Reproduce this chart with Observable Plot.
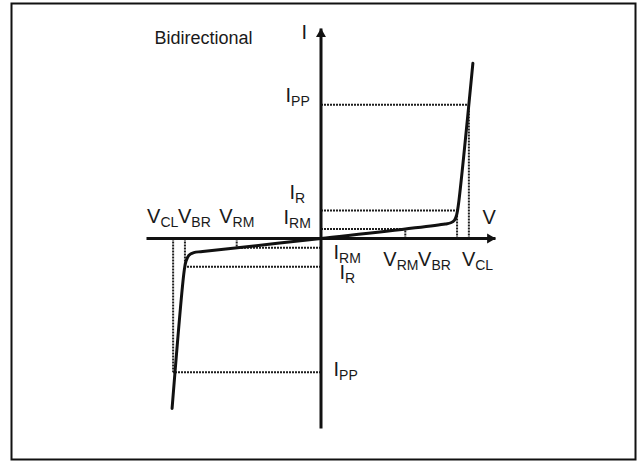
<!DOCTYPE html>
<html>
<head>
<meta charset="utf-8">
<script src="https://cdn.jsdelivr.net/npm/d3@7"></script>
<script src="https://cdn.jsdelivr.net/npm/@observablehq/plot@0.6"></script>
<style>
  html, body { margin: 0; padding: 0; background: #fff; }
</style>
</head>
<body>
<div id="chart"></div>
<script>
// ---- Data (normalized units: V relative to V_CL, I relative to I_PP) ----
const title = "Bidirectional";
const V_CL = 1.0, V_BR = 0.92, V_RM = 0.57;
const I_PP = 1.0, I_R = 0.21, I_RM = 0.072;
const V_AXIS = [-1.18, 1.18];
const I_AXIS = [-1.42, 1.57];

// I–V characteristic curve (from lower-left to upper-right)
const curveV = [-1.007, -0.925, -0.913, -0.893, -0.86, -0.80, 0, 0.84, 0.878, 0.903, 0.918, 0.93, 1.027];
const curveI = [-1.27, -0.24, -0.17, -0.125, -0.105, -0.097, 0, 0.109, 0.118, 0.138, 0.18, 0.26, 1.31];

// dotted reference levels: [V level, I level] for each quadrant
const refV = [V_CL, V_BR, V_RM, -V_CL, -V_BR, -V_RM];
const refI = [I_PP, I_R, I_RM, -I_PP, -I_R, -I_RM * 0.95];

// labels: text ("_" marks subscript), anchor V, anchor I
const labelText = ["I", "V",
  "I_PP", "I_R", "I_RM",
  "I_RM", "I_R", "I_PP",
  "V_RM", "V_BR", "V_CL",
  "V_CL", "V_BR", "V_RM"];
const labelV = [0, V_AXIS[1], 0, 0, 0, 0, 0, 0, V_RM, V_BR, V_CL, -V_CL, -V_BR, -V_RM];
const labelI = [I_AXIS[1], 0, I_PP, I_R, I_RM, -I_RM, -I_R, -I_PP, 0, 0, 0, 0, 0, 0];
// ---- end data ----

const curve = curveV.map((v, i) => ({V: v, I: curveI[i]}));
const hRefs = refV.map((v, i) => ({x1: 0, x2: v, y: refI[i]}));
const vRefs = refV.map((v, i) => ({x: v, y1: 0, y2: refI[i]}));
const labelOffsets = [
  [-19.5, 10], [-13, -15],
  [-35.5, -2.5], [-31.5, -11], [-37.5, -4.5],
  [12.5, 11], [18.5, 12], [12.5, 3.5],
  [-22, 27], [-39, 27], [-7, 27],
  [-26, -16], [-7, -16], [-17.5, -16]
];
const labels = labelText.map((t, i) => ({t, V: labelV[i], I: labelI[i]}));

const ink = "#111";
const dotted = {stroke: "#1e1e1e", strokeWidth: 2, strokeDasharray: "2,1"};

const plot = Plot.plot({
  width: 638,
  height: 461,
  marginLeft: 146,
  marginRight: 143,
  marginTop: 28,
  marginBottom: 33,
  x: {domain: V_AXIS, axis: null},
  y: {domain: I_AXIS, axis: null},
  style: {fontFamily: "'Liberation Sans', Arial, Helvetica, sans-serif", background: "#fff", color: ink},
  marks: [
    Plot.frame({stroke: ink, strokeWidth: 2, insetLeft: -135, insetTop: -25, insetRight: -140, insetBottom: -31}),
    // dotted guides
    Plot.link(hRefs, {x1: "x1", x2: "x2", y1: "y", y2: "y", ...dotted}),
    Plot.link(vRefs, {x1: "x", x2: "x", y1: "y1", y2: "y2", ...dotted}),
    // axes
    Plot.link([{a: V_AXIS[0], b: V_AXIS[1]}], {x1: "a", x2: "b", y1: () => 0, y2: () => 0, stroke: ink, strokeWidth: 3}),
    Plot.link([{a: I_AXIS[0], b: I_AXIS[1]}], {x1: () => 0, x2: () => 0, y1: "a", y2: "b", stroke: ink, strokeWidth: 3}),
    Plot.dot([{V: V_AXIS[1], I: 0}], {x: "V", y: "I", symbol: "triangle", r: 3.7, fill: ink, stroke: "none", rotate: 90, dx: -5.5}),
    Plot.dot([{V: 0, I: I_AXIS[1]}], {x: "V", y: "I", symbol: "triangle", r: 3.7, fill: ink, stroke: "none", dy: 5.5}),
    // characteristic curve
    Plot.line(curve, {x: "V", y: "I", curve: "catmull-rom", stroke: ink, strokeWidth: 3, strokeLinejoin: "round"}),
    // labels (one mark each so that each gets its own offset)
    ...labels.map((l, i) => Plot.text([l], {x: "V", y: "I", text: "t", dx: labelOffsets[i][0], dy: labelOffsets[i][1], textAnchor: "start", lineAnchor: "bottom", fontSize: 20, fill: "#1a1a1a"})),
    Plot.text([title], {x: () => V_AXIS[0], y: () => I_AXIS[1], text: d => d, dx: 8, dy: 15, textAnchor: "start", lineAnchor: "bottom", fontSize: 18, fill: "#1a1a1a"})
  ]
});

// build subscripts
plot.querySelectorAll("text").forEach(el => {
  const s = el.textContent;
  if (s.includes("_")) {
    const [main, sub] = s.split("_");
    el.textContent = "";
    const t1 = document.createElementNS("http://www.w3.org/2000/svg", "tspan");
    t1.textContent = main;
    const t2 = document.createElementNS("http://www.w3.org/2000/svg", "tspan");
    t2.textContent = sub;
    t2.setAttribute("dy", "4");
    t2.setAttribute("font-size", "14");
    el.appendChild(t1);
    el.appendChild(t2);
  }
});
document.getElementById("chart").appendChild(plot);
</script>
</body>
</html>
